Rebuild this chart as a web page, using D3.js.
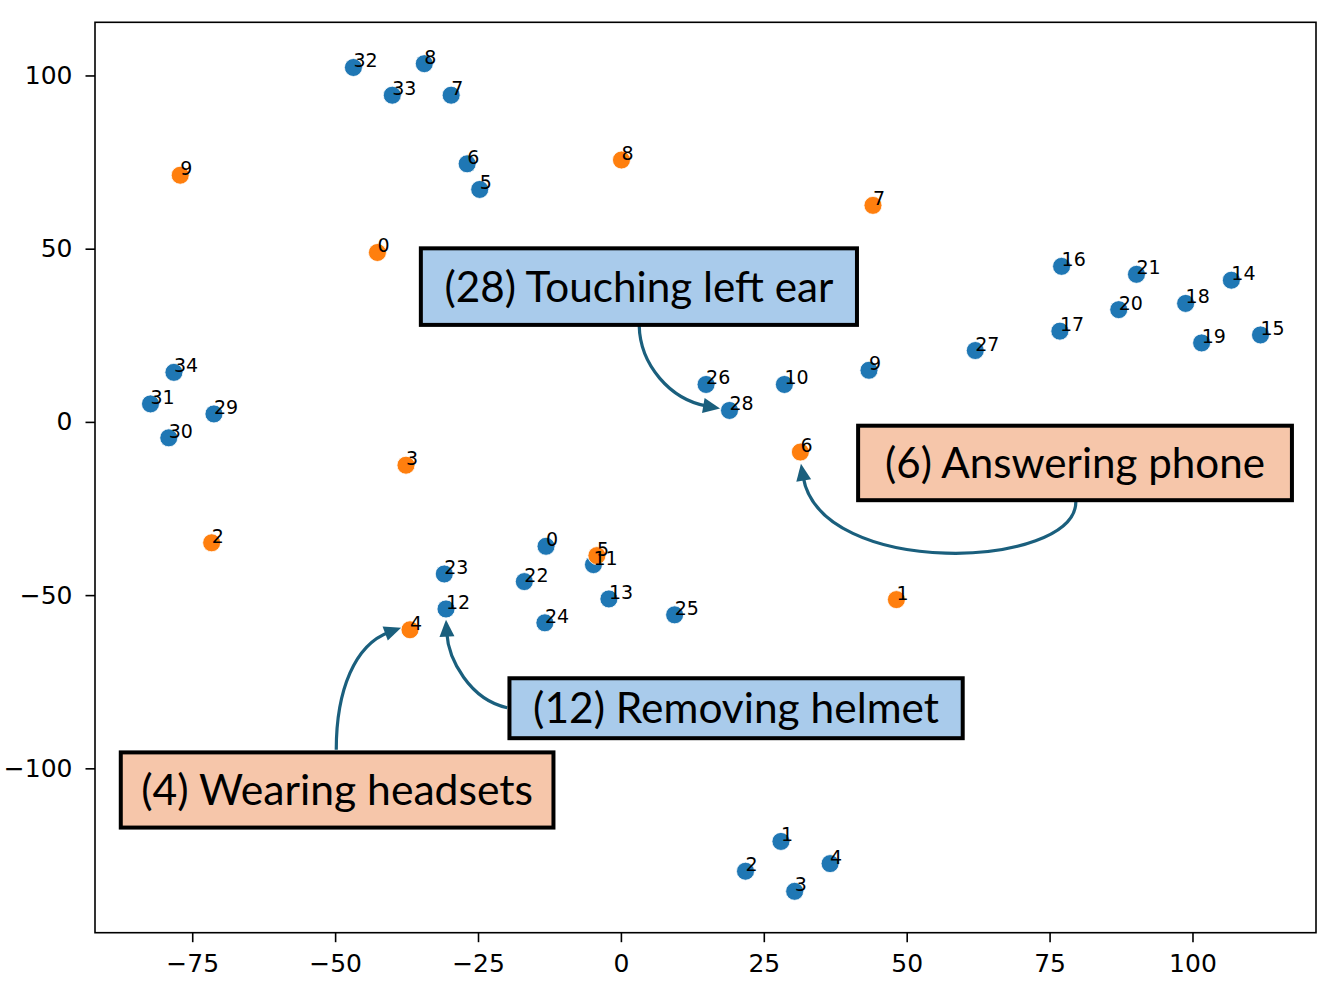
<!DOCTYPE html>
<html><head><meta charset="utf-8">
<script src="https://cdn.jsdelivr.net/npm/d3@7"></script>
<style>body{margin:0;background:#fff}</style>
</head><body><svg id="c" width="1330" height="985"></svg>
<script>
// ---- data ----
const blueIds = [0,1,2,3,4,5,6,7,8,9,10,11,12,13,14,15,16,17,18,19,20,21,22,23,24,25,26,27,28,29,30,31,32,33,34];
const blueX = [-13.1,28.0,21.8,30.4,36.6,-24.7,-26.9,-29.7,-34.4,43.4,28.6,-4.8,-30.6,-2.1,106.8,111.9,77.1,76.8,98.8,101.6,87.1,90.2,-16.9,-30.9,-13.3,9.4,14.9,62.0,19.0,-71.2,-79.1,-82.3,-46.8,-40.0,-78.2];
const blueY = [-35.9,-121.1,-129.7,-135.5,-127.5,67.1,74.5,94.3,103.4,14.9,10.8,-41.2,-54.0,-51.1,40.9,25.1,44.9,26.2,34.2,22.8,32.4,42.6,-46.1,-43.9,-58.0,-55.7,10.8,20.6,3.3,2.3,-4.6,5.2,102.3,94.3,14.3];
const orangeIds = [0,1,2,3,4,5,6,7,8,9];
const orangeX = [-42.6,48.2,-71.6,-37.6,-36.9,-4.2,31.4,44.1,0.1,-77.1];
const orangeY = [48.9,-51.3,-34.9,-12.5,-60.0,-38.6,-8.7,62.5,75.6,71.2];
const xTicks = [-75,-50,-25,0,25,50,75,100];
const yTicks = [-100,-50,0,50,100];

// annotation boxes (data coordinates)
const annoLabels = ["(28) Touching left ear","(6) Answering phone","(12) Removing helmet","(4) Wearing headsets"];
const annoKinds  = ["blue","orange","blue","orange"];
const annoLeft   = [-35.0, 41.5, -19.5, -87.5];
const annoRight  = [41.3, 117.4, 59.8, -11.8];
const annoTop    = [50.1, -1.1, -74.0, -95.4];
const annoBottom = [28.0, -22.6, -91.3, -117.1];
const annoTextW  = [389, 380, 406, 392];
// arrows: cubic bezier control points (data coordinates)
const arrowPts = [
  [[3.2,27.8],[3.35,16.5],[8.6,6.4],[17.35,3.9]],
  [[79.6,-23.0],[79.6,-42.6],[34.85,-45.5],[31.5,-12.05]],
  [[-19.9,-82.5],[-26.4,-80.2],[-30.2,-68.6],[-30.6,-57.1]],
  [[-49.8,-94.6],[-49.8,-77.3],[-46.5,-64.3],[-38.45,-59.4]]
];

// ---- layout ----
const svg = d3.select("#c");
const L = 95, T = 22.3, R = 1316, B = 932.7;
function padExt(a){const e=d3.extent(a);const r=e[1]-e[0];return [e[0]-0.05*r,e[1]+0.05*r];}
const x = d3.scaleLinear().domain(padExt(blueX.concat(orangeX))).range([L,R]);
const y = d3.scaleLinear().domain(padExt(blueY.concat(orangeY))).range([B,T]);

const colors = {blue:"#1f77b4", orange:"#ff7f0e"};
const boxFill = {blue:"#a9cbeb", orange:"#f6c6aa"};
const arrowColor = "#1a5f7d";

// axes
const fontTick = "'DejaVu Sans', sans-serif";
const gx = svg.append("g").attr("transform",`translate(0,${B})`)
  .call(d3.axisBottom(x).tickValues(xTicks).tickSize(9.5).tickPadding(12.5).tickSizeOuter(0));
const gy = svg.append("g").attr("transform",`translate(${L},0)`)
  .call(d3.axisLeft(y).tickValues(yTicks).tickSize(9.5).tickPadding(13).tickSizeOuter(0));
[gx,gy].forEach(g=>{
  g.select(".domain").remove();
  g.selectAll(".tick line").attr("stroke","#000").attr("stroke-width",1.6);
  g.selectAll(".tick text").attr("font-family",fontTick).attr("font-size",25).attr("fill","#000");
});
svg.append("rect").attr("x",L).attr("y",T).attr("width",R-L).attr("height",B-T)
  .attr("fill","none").attr("stroke","#000").attr("stroke-width",1.6);

// points
const pts = blueIds.map((id,i)=>({id,x:blueX[i],y:blueY[i],k:"blue"}))
  .concat(orangeIds.map((id,i)=>({id,x:orangeX[i],y:orangeY[i],k:"orange"})));
svg.append("g").selectAll("circle").data(pts).join("circle")
  .attr("cx",d=>x(d.x)).attr("cy",d=>y(d.y)).attr("r",9)
  .attr("fill",d=>colors[d.k]).attr("stroke","#fff").attr("stroke-width",0.8);
svg.append("g").selectAll("text").data(pts).join("text")
  .attr("x",d=>x(d.x)).attr("y",d=>y(d.y))
  .attr("font-family",fontTick).attr("font-size",19).attr("fill","#000")
  .text(d=>d.id);

// arrows
const ag = svg.append("g");
arrowPts.forEach(p=>{
  const P = p.map(q=>[x(q[0]),y(q[1])]);
  const dx = P[3][0]-P[2][0], dy = P[3][1]-P[2][1];
  const len = Math.hypot(dx,dy); const ux=dx/len, uy=dy/len;
  const hl = 17, hw = 7.5;
  const end = [P[3][0]-ux*(hl-4), P[3][1]-uy*(hl-4)];
  const path = d3.path();
  path.moveTo(P[0][0],P[0][1]);
  path.bezierCurveTo(P[1][0],P[1][1],P[2][0],P[2][1],end[0],end[1]);
  ag.append("path").attr("d",path.toString()).attr("fill","none")
    .attr("stroke",arrowColor).attr("stroke-width",3.2);
  const bx = P[3][0]-ux*hl, by = P[3][1]-uy*hl;
  ag.append("path").attr("d",`M${P[3][0]},${P[3][1]}L${bx-uy*hw},${by+ux*hw}L${bx+uy*hw},${by-ux*hw}Z`)
    .attr("fill",arrowColor);
});

// annotation boxes
const bg = svg.append("g");
annoLabels.forEach((t,i)=>{
  const x0=x(annoLeft[i]), x1=x(annoRight[i]), y0=y(annoTop[i]), y1=y(annoBottom[i]);
  bg.append("rect").attr("x",x0).attr("y",y0).attr("width",x1-x0).attr("height",y1-y0)
    .attr("fill",boxFill[annoKinds[i]]).attr("stroke","#000").attr("stroke-width",4);
  const tx = bg.append("text").attr("x",(x0+x1)/2).attr("text-anchor","middle")
    .attr("font-family","Lato, 'Open Sans', sans-serif").attr("font-size",40).attr("fill","#000").text(t);
  const w = tx.node().getComputedTextLength();
  const fs = 40*annoTextW[i]/w;
  tx.attr("font-size",fs).attr("y",(y0+y1)/2 + 0.358*fs);
});
</script></body></html>
